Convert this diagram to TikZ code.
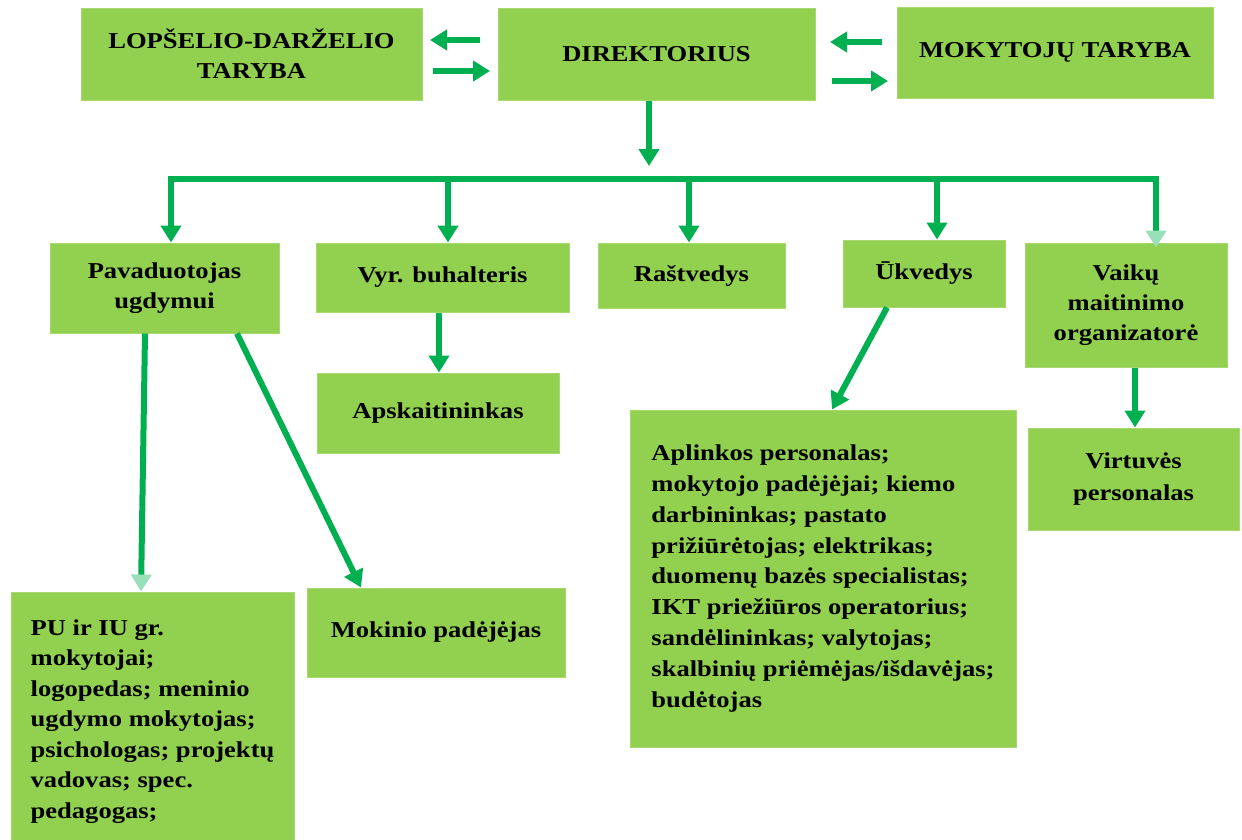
\documentclass[tikz,border=0pt]{standalone}
\usepackage{fontspec}
\setmainfont{Liberation Serif}[FakeStretch=1.17]
\usetikzlibrary{arrows.meta}
\definecolor{boxgreen}{RGB}{146,208,80}
\definecolor{boxedge}{RGB}{165,216,110}
\definecolor{arrowgreen}{RGB}{0,176,80}
\begin{document}
\begin{tikzpicture}[x=1pt,y=-1pt,
  box/.style={fill=boxgreen, draw=boxedge, line width=1pt, inner sep=0pt, align=center,
    font=\bfseries\fontsize{22.7}{30}\selectfont},
  listbox/.style={box, align=left, font=\bfseries\fontsize{22.7}{30.8}\selectfont},
  conn/.style={draw=arrowgreen, line width=6pt},
  arr/.style={conn, -{Triangle[width=20pt,length=17pt]}},
  farr/.style={conn, -{Triangle[width=20pt,length=17pt,color=arrowgreen!40!white]}},
]
\useasboundingbox (0,0) rectangle (1242,839);
\clip (0,0) rectangle (1242,839);

% top row
\node[box, minimum width=341pt, minimum height=92pt] (lop) at (251.5,54) {LOPŠELIO-DARŽELIO\\TARYBA};
\node[box, minimum width=317pt, minimum height=92pt] (dir) at (656.5,54) {DIREKTORIUS};
\node[box, minimum width=316pt, minimum height=91pt] (mok) at (1055,52.5) {MOKYTOJŲ TARYBA};

% second row
\node[box, minimum width=229pt, minimum height=90pt] (pav) at (164.5,288) {Pavaduotojas\\ugdymui};
\node[box, minimum width=253pt, minimum height=69pt] (buh) at (442.5,277.5) {Vyr. buhalteris};
\node[box, minimum width=187pt, minimum height=65pt] (rast) at (691.5,275.5) {Raštvedys};
\node[box, minimum width=162pt, minimum height=67pt] (ukv) at (924,273.5) {Ūkvedys};
\node[box, minimum width=202pt, minimum height=124pt] (vaik) at (1126,305) {Vaikų\\maitinimo\\organizatorė};

% third row
\node[box, minimum width=242pt, minimum height=80pt] (apsk) at (438,413) {Apskaitininkas};
\node[listbox, minimum width=386pt, minimum height=337pt] (apl) at (823,578.5)
  {Aplinkos personalas;\\mokytojo padėjėjai; kiemo\\darbininkas; pastato\\prižiūrėtojas; elektrikas;\\duomenų bazės specialistas;\\IKT priežiūros operatorius;\\sandėlininkas; valytojas;\\skalbinių priėmėjas/išdavėjas;\\budėtojas};
\node[box, minimum width=211pt, minimum height=102pt, font=\bfseries\fontsize{22.7}{32}\selectfont] (virt) at (1133.5,479) {Virtuvės\\personalas};
\node[listbox, minimum width=283pt, minimum height=259pt, font=\bfseries\fontsize{22.7}{30.5}\selectfont] (pu) at (152.5,721.5)
  {PU ir IU gr.\\mokytojai;\\logopedas; meninio\\ugdymo mokytojas;\\psichologas; projektų\\vadovas; spec.\\pedagogas;};
\node[box, minimum width=258pt, minimum height=89pt] (mokin) at (436,632.5) {Mokinio padėjėjas};

% top horizontal arrows
\coordinate (l1s) at (480,40);  \coordinate (l1e) at (430,40);
\coordinate (l2s) at (433,71);  \coordinate (l2e) at (490,71);
\coordinate (r1s) at (882,42);  \coordinate (r1e) at (830,42);
\coordinate (r2s) at (832,81);  \coordinate (r2e) at (888,81);
\draw[arr] (l1s) -- (l1e);
\draw[arr] (l2s) -- (l2e);
\draw[arr] (r1s) -- (r1e);
\draw[arr] (r2s) -- (r2e);

% director down to bus
\coordinate (dd) at (649,166);
\draw[arr] (dir.south -| dd) -- (dd);

% bus
\coordinate (busL) at (171,179);
\coordinate (busR) at (1156,179);
\coordinate (b2) at (448,179);
\coordinate (b3) at (689,179);
\coordinate (b4) at (937,179);
\draw[arr] ([yshift=3pt]busL) -- (pav.north -| busL);
\draw[farr, line join=miter] ([xshift=-3pt]busL) -- (busR) -- ([yshift=-5pt]vaik.north -| busR);
\draw[arr] (b2) -- (buh.north -| b2);
\draw[arr] (b3) -- (rast.north -| b3);
\draw[arr] (b4) -- (ukv.north -| b4);

% lower connectors
\coordinate (c1) at (439,0);
\draw[arr] (buh.south -| c1) -- (apsk.north -| c1);
\coordinate (c2s) at (887,0);
\coordinate (c2e) at (832,0);
\draw[arr] (ukv.south -| c2s) -- (apl.north -| c2e);
\coordinate (c3) at (1135,0);
\draw[arr] (vaik.south -| c3) -- (virt.north -| c3);
\coordinate (c4s) at (145,0);
\coordinate (c4e) at (141,0);
\draw[farr] (pav.south -| c4s) -- (pu.north -| c4e);
\coordinate (c5s) at (237,0);
\coordinate (c5e) at (361,0);
\draw[arr] (pav.south -| c5s) -- (mokin.north -| c5e);
\end{tikzpicture}
\end{document}
